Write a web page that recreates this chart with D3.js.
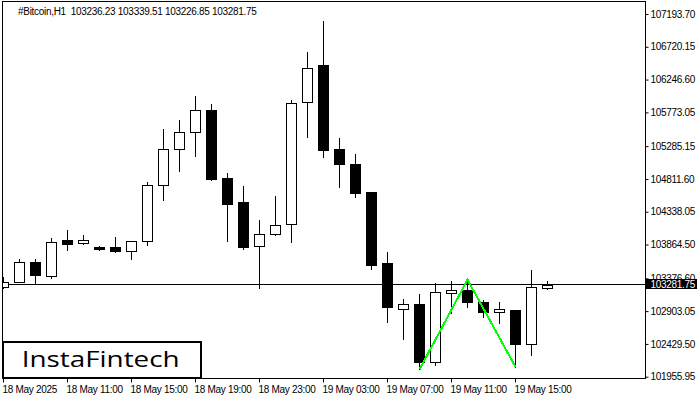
<!DOCTYPE html>
<html><head><meta charset="utf-8">
<script src="https://cdn.jsdelivr.net/npm/d3@7"></script>
<style>body{margin:0;background:#fff}svg{display:block}</style>
</head><body>
<svg id="c" width="700" height="400"></svg>
<script>
// ---- data ----
const opens  = [103253,103325,103606,103412,103924,103880,103822,103822,103773,103918,104718,105239,105493,105802,104820,104473,103837,104010,104155,105918,106457,105243,105023,104622,103591,102935,103003,102169,103167,103206,103032,102892,102917,102435,103236.23];
const highs  = [103398,103649,103649,103953,104072,104000,103837,103971,103912,104766,105532,105662,106013,105893,104892,104708,104217,104564,105951,106640,107092,105398,105168,104630,103755,103075,103148,103307,103333,103357,103061,103032,102924,103495,103339.51];
const lows   = [103240,103318,103311,103383,103784,103866,103788,103759,103658,103860,104510,104929,105146,104799,103918,103802,103230,104005,103903,105421,105132,104698,104557,103513,102743,102497,102060,102122,102873,102964,102820,102733,102097,102271,103226.85];
const closes = [103325,103606,103427,103895,103875,103924,103798,103773,103909,104718,105239,105484,105802,104814,104452,103831,104010,104140,105903,106409,105233,105031,104612,103571,102964,103003,102169,103172,103203,103036,102892,102927,102430,103245,103281.75];
const xTickIndex  = [0,4,8,12,16,20,24,28,32];
const xTickLabels = ["18 May 2025","18 May 11:00","18 May 15:00","18 May 19:00","18 May 23:00","19 May 03:00","19 May 07:00","19 May 11:00","19 May 15:00"];
const yTickValues = [107193.70,106720.15,106246.60,105773.05,105285.15,104811.60,104338.05,103864.50,103376.60,102903.05,102429.50,101955.95];
const patternIndex  = [26,29,32];
const patternValues = [102060,103357,102097];
const lastPrice = 103281.75;
const titleText = "#Bitcoin,H1  103236.23 103339.51 103226.85 103281.75";
const logoText = "InstaFintech";

// ---- layout ----
const svg = d3.select("#c");
const L = 2, R = 645, T = 1, B = 378;
const x = d3.scaleLinear().domain([-0.0625, 40.125]).range([L, R]);
const y = d3.scaleLinear().domain([101955.95, 107193.70]).range([376.7, 14]);
const FONT = "'Liberation Sans', Arial, sans-serif";

const candles = opens.map((o,i)=>({i, o, h:highs[i], l:lows[i], c:closes[i]}));

svg.append("defs").append("clipPath").attr("id","clip")
  .append("rect").attr("x",L+1).attr("y",T+1).attr("width",R-L-1).attr("height",B-T-1);

const plot = svg.append("g").attr("clip-path","url(#clip)");

const lp = Math.floor(y(lastPrice));
// current price line (behind candles)
plot.append("line")
  .attr("x1",L).attr("x2",R)
  .attr("y1",lp+0.5).attr("y2",lp+0.5)
  .attr("stroke","#000").attr("stroke-width",1);

const cx = d => Math.round(x(d.i)) + 0.5;
const ry = v => Math.round(y(v));

plot.selectAll("line.wick").data(candles).join("line").attr("class","wick")
  .attr("x1",cx).attr("x2",cx)
  .attr("y1",d=>ry(d.h)).attr("y2",d=>ry(d.l)+1)
  .attr("stroke","#000").attr("stroke-width",1);

plot.selectAll("rect.body").data(candles).join("rect").attr("class","body")
  .attr("x",d=>cx(d)-5)
  .attr("width",10)
  .attr("y",d=>Math.min(ry(d.o),ry(d.c))+0.5)
  .attr("height",d=>Math.max(Math.abs(ry(d.o)-ry(d.c)),1))
  .attr("fill",d=>d.c>=d.o?"#fff":"#000")
  .attr("stroke","#000").attr("stroke-width",1);

// pattern line
const pat = patternIndex.map((k,j)=>[Math.round(x(k))+0.5, y(patternValues[j])]);
plot.append("path").attr("d",d3.line()(pat))
  .attr("fill","none").attr("stroke","#00ff00").attr("stroke-width",2)
  .attr("shape-rendering","crispEdges");

// frame
svg.append("rect").attr("x",L+0.5).attr("y",T+0.5).attr("width",R-L).attr("height",B-T)
  .attr("fill","none").attr("stroke","#000").attr("stroke-width",1);

// y axis
const ya = svg.append("g").attr("transform",`translate(${R+0.5},0)`)
  .call(d3.axisRight(y).tickValues(yTickValues).tickSize(3).tickSizeOuter(0).tickPadding(2)
        .tickFormat(d3.format(".2f")));
ya.select(".domain").remove();
ya.selectAll("text").attr("font-family",FONT).attr("font-size",10).attr("letter-spacing","-0.3px").attr("fill","#000");
ya.selectAll("line").attr("stroke","#000");

// x axis
const xa = svg.append("g").attr("transform",`translate(0,${B+0.5})`)
  .call(d3.axisBottom(x).tickValues(xTickIndex).tickSize(4).tickSizeOuter(0).tickPadding(3)
        .tickFormat((d,i)=>xTickLabels[i]));
xa.select(".domain").remove();
xa.selectAll("text").attr("font-family",FONT).attr("font-size",10).attr("letter-spacing","-0.3px")
  .attr("text-anchor","start").attr("x",-1).attr("fill","#000");
xa.selectAll("line").attr("stroke","#000");

// last price label
svg.append("rect").attr("x",R+1).attr("y",lp-5).attr("width",51).attr("height",10).attr("fill","#000");
svg.append("text").attr("x",R+5.5).attr("y",lp+3.7).text(d3.format(".2f")(lastPrice))
  .attr("font-family",FONT).attr("font-size",10).attr("letter-spacing","-0.3px").attr("fill","#fff");

// title
svg.append("text").attr("x",18).attr("y",15).text(titleText)
  .attr("font-family",FONT).attr("font-size",10).attr("letter-spacing","-0.3px")
  .attr("fill","#000").style("white-space","pre");

// logo
svg.append("rect").attr("x",3).attr("y",342).attr("width",198).attr("height",36)
  .attr("fill","#fff").attr("stroke","#000").attr("stroke-width",2);
svg.append("text").attr("x",21.7).attr("y",367.3).text(logoText)
  .attr("font-family","'Open Sans', 'Noto Sans', sans-serif").attr("font-size",22).attr("font-weight",500)
  .attr("textLength",158).attr("lengthAdjust","spacingAndGlyphs").attr("fill","#000");
</script>
</body></html>
